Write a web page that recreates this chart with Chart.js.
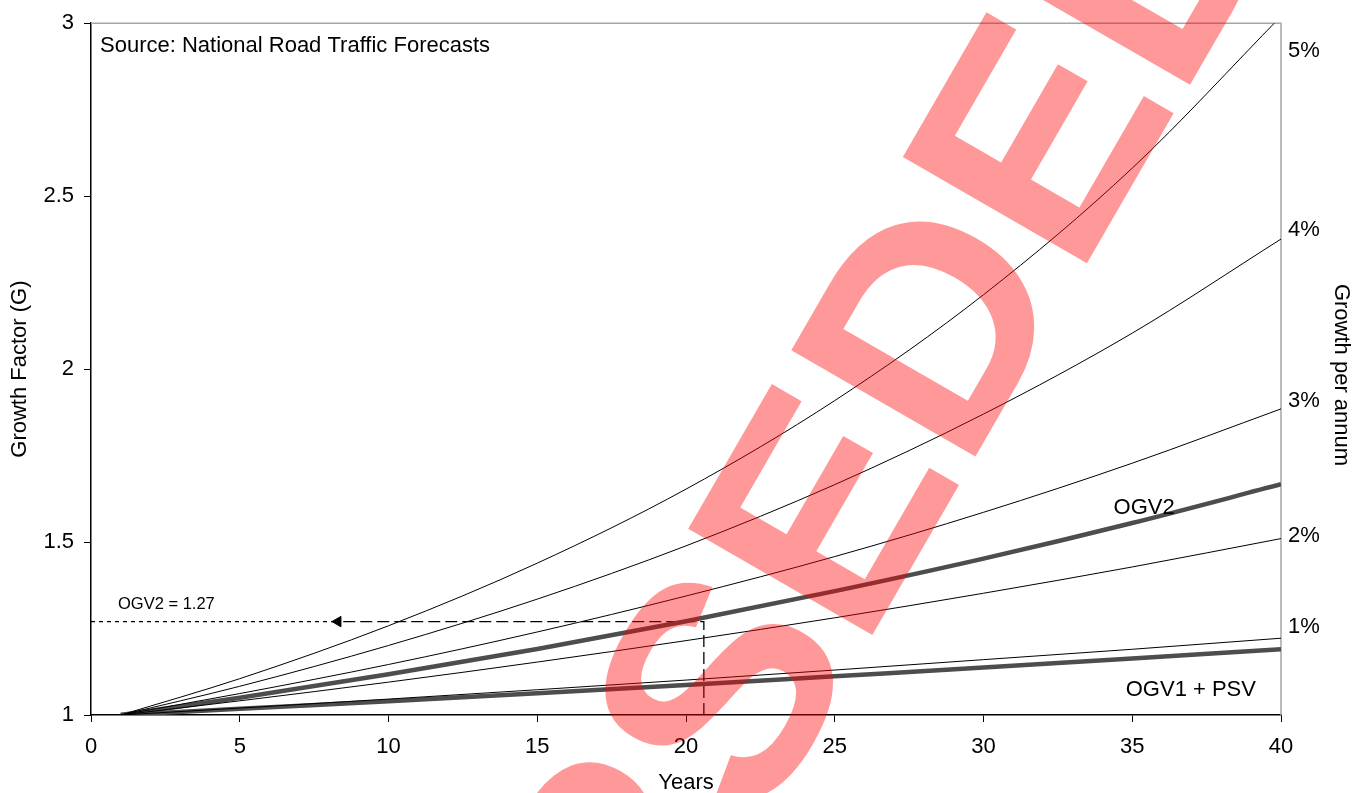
<!DOCTYPE html>
<html>
<head>
<meta charset="utf-8">
<script src="https://cdn.jsdelivr.net/npm/chart.js@4.4.1/dist/chart.umd.min.js"></script>
<style>
  body { margin: 0; background: #fff; }
  #wrap { width: 1353px; height: 793px; position: relative; }
</style>
</head>
<body>
<div id="wrap"><canvas id="myChart"></canvas></div>
<script>
// years the curves are read at
const years = [1, 5, 10, 15, 20, 25, 30, 35, 40];
// growth factor for each rate per annum
const growth5 = [1, 1.105, 1.258, 1.439, 1.653, 1.909, 2.215, 2.581, 3.020];
const growth4 = [1, 1.083, 1.201, 1.335, 1.489, 1.666, 1.870, 2.104, 2.376];
const growth3 = [1, 1.062, 1.146, 1.240, 1.344, 1.458, 1.586, 1.728, 1.885];
const growth2 = [1, 1.041, 1.095, 1.153, 1.215, 1.281, 1.352, 1.428, 1.510];
const growth1 = [1, 1.020, 1.046, 1.073, 1.101, 1.130, 1.160, 1.190, 1.222];
// vehicle classes
const ogv2 = [1, 1.050, 1.118, 1.191, 1.271, 1.358, 1.452, 1.555, 1.667];
const ogv1Psv = [1, 1.018, 1.040, 1.063, 1.087, 1.112, 1.137, 1.163, 1.190];
// worked example read-off
const readYear = 20.6;
const readValue = 1.27;
const arrowYear = 8.3;
// axis ticks
const xTicks = [0, 5, 10, 15, 20, 25, 30, 35, 40];
const yTicks = [1, 1.5, 2, 2.5, 3];
const rateLabels = ["5%", "4%", "3%", "2%", "1%"];

const FONT = '"Liberation Sans", Arial, sans-serif';

function pts(vals) {
  return years.map((y, i) => ({ x: y, y: vals[i] }));
}

function rateLine(vals) {
  return {
    data: pts(vals),
    borderColor: "#000",
    borderWidth: 1,
    pointRadius: 0,
    cubicInterpolationMode: "monotone",
    fill: false,
  };
}

function vehicleLine(vals) {
  return {
    data: pts(vals),
    borderColor: "#4d4d4d",
    borderWidth: 4.5,
    pointRadius: 0,
    cubicInterpolationMode: "monotone",
    fill: false,
  };
}

// text, borders and the watermark
const extras = {
  id: "extras",
  beforeDatasetsDraw(chart) {
    const ctx = chart.ctx;
    const a = chart.chartArea;
    ctx.save();
    ctx.strokeStyle = "#a6a6a6";
    ctx.lineWidth = 1.5;
    ctx.beginPath();
    ctx.moveTo(a.left, a.top);
    ctx.lineTo(a.right, a.top);
    ctx.lineTo(a.right, a.bottom);
    ctx.stroke();
    ctx.restore();
  },
  afterDraw(chart) {
    const ctx = chart.ctx;
    const a = chart.chartArea;
    const xs = chart.scales.x;
    const ys = chart.scales.y;
    ctx.save();
    ctx.fillStyle = "#000";
    ctx.font = "22px " + FONT;
    ctx.textBaseline = "middle";
    ctx.textAlign = "left";
    ctx.fillText("Source: National Road Traffic Forecasts", a.left + 9, a.top + 23);

    // rate labels at the right
    const rateAnchors = [2.919, 2.403, 1.907, 1.519, 1.254];
    rateLabels.forEach((t, i) => {
      ctx.fillText(t, a.right + 7, ys.getPixelForValue(rateAnchors[i]));
    });

    ctx.textAlign = "center";
    ctx.fillText("OGV2", xs.getPixelForValue(35.4), ys.getPixelForValue(1.6));
    ctx.fillText("OGV1 + PSV", xs.getPixelForValue(36.97), ys.getPixelForValue(1.072));

    // axis titles
    ctx.fillText("Years", (a.left + a.right) / 2, 783);
    ctx.save();
    ctx.translate(20, (a.top + a.bottom) / 2);
    ctx.rotate(-Math.PI / 2);
    ctx.fillText("Growth Factor (G)", 0, 0);
    ctx.restore();
    ctx.save();
    ctx.translate(1341, 375);
    ctx.rotate(Math.PI / 2);
    ctx.fillText("Growth per annum", 0, 0);
    ctx.restore();

    // read-off label
    ctx.font = "16.5px " + FONT;
    ctx.textAlign = "left";
    ctx.fillText("OGV2 = " + readValue, a.left + 27, ys.getPixelForValue(readValue) - 17);

    // watermark
    ctx.translate(862, 653);
    ctx.rotate((-60 * Math.PI) / 180);
    ctx.font = "bold 309px " + FONT;
    ctx.textBaseline = "alphabetic";
    const w = ctx.measureText("SUPERS").width;
    ctx.fillStyle = "rgba(255, 0, 0, 0.4)";
    ctx.fillText("SUPERSEDED", -w, 0);
    ctx.restore();
  },
};

const ctx = document.getElementById("myChart").getContext("2d");
const myChart = new Chart(ctx, {
  type: "line",
  data: {
    datasets: [
      rateLine(growth5),
      rateLine(growth4),
      rateLine(growth3),
      rateLine(growth2),
      rateLine(growth1),
      vehicleLine(ogv2),
      vehicleLine(ogv1Psv),
      {
        // short dashes to the axis
        data: [
          { x: 0, y: readValue },
          { x: arrowYear, y: readValue },
        ],
        borderColor: "#000",
        borderWidth: 1.3,
        borderDash: [4, 4],
        pointRadius: 0,
        tension: 0,
      },
      {
        // long dashes from the year up and across
        data: [
          { x: readYear, y: 1 },
          { x: readYear, y: readValue },
          { x: arrowYear, y: readValue },
        ],
        borderColor: "#000",
        borderWidth: 1.3,
        borderDash: [12, 5],
        pointRadius: 0,
        tension: 0,
      },
      {
        // arrow head
        data: [{ x: arrowYear, y: readValue }],
        showLine: false,
        pointStyle: "triangle",
        pointRotation: -90,
        pointRadius: 6,
        backgroundColor: "#000",
        borderColor: "#000",
        borderWidth: 1,
      },
    ],
  },
  options: {
    responsive: true,
    maintainAspectRatio: false,
    animation: false,
    events: [],
    layout: { padding: { top: 22, right: 72, left: 0, bottom: 0 } },
    plugins: { legend: { display: false }, tooltip: { enabled: false } },
    scales: {
      x: {
        type: "linear",
        min: 0,
        max: 40,
        afterFit: (s) => { s.height = 78; },
        afterBuildTicks: (s) => { s.ticks = xTicks.map((v) => ({ value: v })); },
        ticks: { color: "#000", font: { family: FONT, size: 22 }, padding: 12, maxRotation: 0,
          callback: (v) => String(v) },
        grid: { drawOnChartArea: false, drawTicks: true, tickLength: 7, color: "#000" },
        border: { color: "#000", width: 1.5 },
      },
      y: {
        min: 1,
        max: 3,
        afterFit: (s) => { s.width = 91; },
        afterBuildTicks: (s) => { s.ticks = yTicks.map((v) => ({ value: v })); },
        ticks: { color: "#000", font: { family: FONT, size: 22 }, padding: 10,
          callback: (v) => String(v) },
        grid: { drawOnChartArea: false, drawTicks: true, tickLength: 7, color: "#000" },
        border: { color: "#000", width: 1.5 },
      },
    },
  },
  plugins: [extras],
});
</script>
</body>
</html>
